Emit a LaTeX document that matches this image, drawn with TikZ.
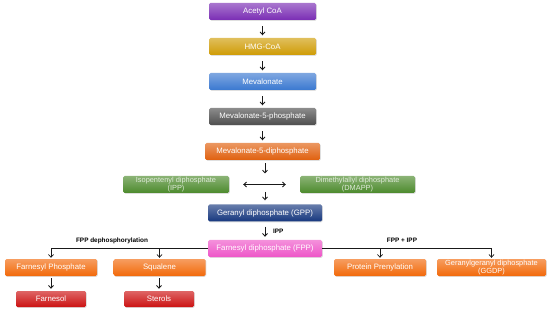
\documentclass[tikz,border=0pt]{standalone}
\usepackage{fontspec}
\setmainfont{Liberation Sans}
\usetikzlibrary{arrows.meta, positioning, calc, shadows}

\definecolor{acetylc}{HTML}{7A2DB4}
\definecolor{hmgc}{HTML}{CF9C05}
\definecolor{mevac}{HTML}{3A78D0}
\definecolor{phosc}{HTML}{4E4E4E}
\definecolor{diphosc}{HTML}{E0600E}
\definecolor{greenc}{HTML}{4C8A2C}
\definecolor{navyc}{HTML}{16377E}
\definecolor{pinkc}{HTML}{EE55C8}
\definecolor{orangec}{HTML}{F2690A}
\definecolor{redc}{HTML}{CC1212}

\begin{document}
\begin{tikzpicture}[
    x=1pt, y=-1pt,
    stepbox/.style={
        rectangle, rounded corners=1.5pt, minimum height=17pt, inner sep=1pt,
        text=white, align=center, font=\fontsize{7.8}{8.4}\selectfont,
        top color=#1!65!white, bottom color=#1,
        drop shadow={opacity=0.25, shadow xshift=0.8pt, shadow yshift=-0.8pt}
    },
    twoline/.style={font=\fontsize{7.4}{7.8}\selectfont},
    note/.style={font=\fontsize{6.4}{7}\selectfont\bfseries, inner sep=1pt},
    flowarrow/.style={-{Straight Barb[length=2.8pt,width=5pt]}, line width=0.85pt, black!90},
    branch/.style={-{Straight Barb[length=2.8pt,width=5pt]}, line width=0.7pt, black!90},
]
\useasboundingbox (0,0) rectangle (550,313);

% Main pathway
\node[stepbox=acetylc, minimum width=107pt] (acetyl) at (262.5, 11.5) {Acetyl CoA};
\node[stepbox=hmgc, minimum width=107pt] (hmg) at (262.5, 46.5) {HMG-CoA};
\node[stepbox=mevac, minimum width=107pt] (meva) at (262.5, 81.5) {Mevalonate};
\node[stepbox=phosc, minimum width=107pt] (mfp) at (262.5, 116.5) {Mevalonate-5-phosphate};
\node[stepbox=diphosc, minimum width=115pt] (mfdp) at (262.5, 151.5) {Mevalonate-5-diphosphate};

% Isomers
\node[stepbox=greenc, twoline, minimum width=106pt, text=white!82!greenc] (ipp) at (176, 184.5) {Isopentenyl diphosphate\\(IPP)};
\node[stepbox=greenc, twoline, minimum width=115pt, text=white!82!greenc] (dmapp) at (357.5, 184.5) {Dimethylallyl diphosphate\\(DMAPP)};
\coordinate (iso) at (265, 184.5);

\node[stepbox=navyc, minimum width=114pt] (gpp) at (265, 213) {Geranyl diphosphate (GPP)};
\node[stepbox=pinkc, minimum width=114pt] (fpp) at (265, 248.5) {Farnesyl diphosphate (FPP)};

% Products
\node[stepbox=orangec, minimum width=92pt] (fphos) at (51, 267.5) {Farnesyl Phosphate};
\node[stepbox=orangec, minimum width=92pt] (squal) at (159.5, 267.5) {Squalene};
\node[stepbox=orangec, minimum width=92pt] (prot) at (380, 267.5) {Protein Prenylation};
\node[stepbox=orangec, twoline, minimum width=109pt] (ggdp) at (491.5, 267.5) {Geranylgeranyl diphosphate\\(GGDP)};
\node[stepbox=redc, minimum width=70pt, minimum height=16pt] (farnesol) at (51, 299) {Farnesol};
\node[stepbox=redc, minimum width=70pt, minimum height=16pt] (sterols) at (159, 299) {Sterols};

% Labels
\node[note, anchor=west] (ipplbl) at (272, 231) {IPP};
\node[note] (deplbl) at (112, 241) {FPP dephosphorylation};
\node[note] (ipplbl2) at (402, 240) {FPP + IPP};

% Arrows down the pathway
\draw[flowarrow, shorten <=6pt, shorten >=2.5pt] (acetyl) -- (hmg);
\draw[flowarrow, shorten <=6pt, shorten >=2.5pt] (hmg) -- (meva);
\draw[flowarrow, shorten <=6pt, shorten >=2.5pt] (meva) -- (mfp);
\draw[flowarrow, shorten <=6pt, shorten >=2.5pt] (mfp) -- (mfdp);
\draw[flowarrow, shorten <=3pt, shorten >=11pt] (mfdp.south -| iso) -- (iso);
\draw[flowarrow, shorten <=7.5pt, shorten >=4pt] (iso) -- (gpp);
\draw[flowarrow, {Straight Barb[length=2.8pt,width=5pt]}-{Straight Barb[length=2.8pt,width=5pt]}, shorten <=14pt, shorten >=14pt] (ipp) -- (dmapp);
\draw[flowarrow, shorten <=5pt, shorten >=3pt] (gpp) -- (fpp);

% Branches from FPP
\draw[branch, shorten >=1pt] (fpp.west) -| (fphos);
\draw[branch, shorten >=1pt] (fpp.west -| squal) -- (squal);
\draw[branch, shorten >=1pt] (fpp.east) -| (ggdp);
\draw[branch, shorten >=1pt] (fpp.east -| prot) -- (prot);

\draw[flowarrow, shorten <=2pt, shorten >=2pt] (fphos) -- (farnesol);
\draw[flowarrow, shorten <=2pt, shorten >=2pt] (squal.south -| sterols) -- (sterols);

\end{tikzpicture}
\end{document}
